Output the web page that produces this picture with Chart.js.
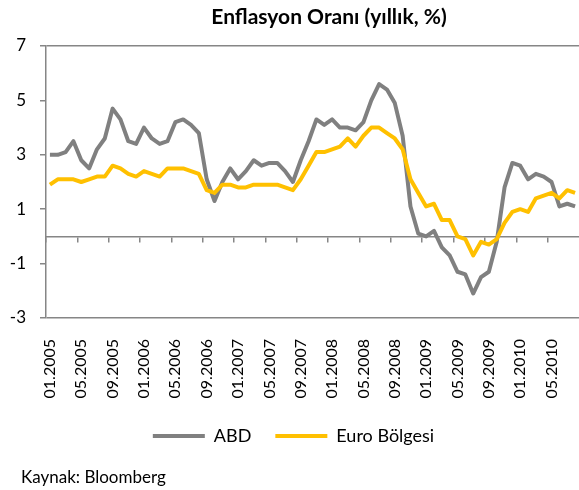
<!DOCTYPE html>
<html>
<head>
<meta charset="utf-8">
<script src="https://cdn.jsdelivr.net/npm/chart.js@4"></script>
<style>
  body { margin: 0; background: #fff; overflow: hidden; }
  #wrap { position: relative; width: 579px; height: 490px; }
  #title {
    position: absolute; left: 179px; width: 300px; top: 3px;
    text-align: center; white-space: nowrap;
    font: bold 21px Lato, sans-serif; color: #000;
  }
  #source {
    position: absolute; left: 21px; top: 466px;
    white-space: nowrap;
    font: 17px Lato, sans-serif; color: #000;
  }
</style>
</head>
<body>
<div id="wrap">
  <canvas id="chart" width="579" height="490"></canvas>
  <div id="title">Enflasyon Oranı (yıllık, %)</div>
  <div id="source">Kaynak: Bloomberg</div>
</div>
<script>
// aylar: 01.2005 - 08.2010
const months = [
  "01.2005","02.2005","03.2005","04.2005","05.2005","06.2005","07.2005","08.2005","09.2005","10.2005","11.2005","12.2005",
  "01.2006","02.2006","03.2006","04.2006","05.2006","06.2006","07.2006","08.2006","09.2006","10.2006","11.2006","12.2006",
  "01.2007","02.2007","03.2007","04.2007","05.2007","06.2007","07.2007","08.2007","09.2007","10.2007","11.2007","12.2007",
  "01.2008","02.2008","03.2008","04.2008","05.2008","06.2008","07.2008","08.2008","09.2008","10.2008","11.2008","12.2008",
  "01.2009","02.2009","03.2009","04.2009","05.2009","06.2009","07.2009","08.2009","09.2009","10.2009","11.2009","12.2009",
  "01.2010","02.2010","03.2010","04.2010","05.2010","06.2010","07.2010","08.2010"
];

// ABD yıllık enflasyon (%)
const abd = [
  3.0, 3.0, 3.1, 3.5, 2.8, 2.5, 3.2, 3.6, 4.7, 4.3, 3.5, 3.4,
  4.0, 3.6, 3.4, 3.5, 4.2, 4.3, 4.1, 3.8, 2.1, 1.3, 2.0, 2.5,
  2.1, 2.4, 2.8, 2.6, 2.7, 2.7, 2.4, 2.0, 2.8, 3.5, 4.3, 4.1,
  4.3, 4.0, 4.0, 3.9, 4.2, 5.0, 5.6, 5.4, 4.9, 3.7, 1.1, 0.1,
  0.0, 0.2, -0.4, -0.7, -1.3, -1.4, -2.1, -1.5, -1.3, -0.2, 1.8, 2.7,
  2.6, 2.1, 2.3, 2.2, 2.0, 1.1, 1.2, 1.1
];

// Euro Bölgesi yıllık enflasyon (%)
const euro = [
  1.9, 2.1, 2.1, 2.1, 2.0, 2.1, 2.2, 2.2, 2.6, 2.5, 2.3, 2.2,
  2.4, 2.3, 2.2, 2.5, 2.5, 2.5, 2.4, 2.3, 1.7, 1.6, 1.9, 1.9,
  1.8, 1.8, 1.9, 1.9, 1.9, 1.9, 1.8, 1.7, 2.1, 2.6, 3.1, 3.1,
  3.2, 3.3, 3.6, 3.3, 3.7, 4.0, 4.0, 3.8, 3.6, 3.2, 2.1, 1.6,
  1.1, 1.2, 0.6, 0.6, 0.0, -0.1, -0.7, -0.2, -0.3, -0.1, 0.5, 0.9,
  1.0, 0.9, 1.4, 1.5, 1.6, 1.4, 1.7, 1.6
];

const yTicks = [-3, -1, 1, 3, 5, 7];

const axisGray = "#868686";
const font = "Lato";

new Chart(document.getElementById("chart"), {
  type: "line",
  data: {
    labels: months,
    datasets: [{
      label: "ABD",
      data: abd,
      borderColor: "#808080",
      backgroundColor: "#808080",
      borderWidth: 4,
      pointRadius: 0,
      borderJoinStyle: "round",
      tension: 0,
      order: 1
    }, {
      label: "Euro Bölgesi",
      data: euro,
      borderColor: "#FFC000",
      backgroundColor: "#FFC000",
      borderWidth: 4,
      pointRadius: 0,
      borderJoinStyle: "round",
      tension: 0,
      order: 0
    }]
  },
  options: {
    responsive: false,
    animation: false,
    layout: { autoPadding: false, padding: { top: 46, left: 8, right: 0, bottom: 35 } },
    scales: {
      x: {
        type: "category",
        offset: true,
        grid: { display: false, drawTicks: false },
        border: { display: false },
        ticks: {
          autoSkip: false,
          minRotation: 90,
          maxRotation: 90,
          padding: 21,
          color: "#000",
          font: { family: font, size: 16 },
          callback: function (val, i) {
            return i % 4 === 0 ? months[i] : "";
          }
        },
        afterFit: function (scale) {
          scale.height = 85;
          // döndürülmüş etiketler sağda boşluk istemesin
          scale.paddingLeft = 0;
          scale.paddingRight = 0;
        }
      },
      // sıfır çizgisindeki eksen ve çentikler
      x0: {
        type: "category",
        labels: months,
        offset: true,
        position: { y: 0 },
        ticks: { display: false },
        grid: {
          offset: true,
          drawOnChartArea: false,
          drawTicks: true,
          tickLength: 5,
          lineWidth: 1.5,
          color: function (ctx) {
            return ctx.index % 4 === 0 ? axisGray : "rgba(0,0,0,0)";
          }
        },
        border: { display: true, color: axisGray, width: 1.5 }
      },
      y: {
        min: -3,
        max: 7,
        ticks: {
          stepSize: 1,
          padding: 14,
          color: "#000",
          font: { family: font, size: 17 },
          callback: function (v) {
            return yTicks.includes(v) ? String(v) : "";
          }
        },
        grid: {
          drawTicks: true,
          tickLength: 6,
          lineWidth: 1.5,
          color: function (ctx) {
            const v = ctx.tick ? ctx.tick.value : null;
            return v === 7 || v === -3 ? axisGray : "rgba(0,0,0,0)";
          },
          tickColor: function (ctx) {
            const v = ctx.tick ? ctx.tick.value : null;
            return yTicks.includes(v) ? axisGray : "rgba(0,0,0,0)";
          }
        },
        border: { display: true, color: axisGray, width: 1.5 },
        afterFit: function (scale) { scale.width = 38; }
      }
    },
    plugins: {
      legend: {
        position: "bottom",
        reverse: true,
        labels: {
          usePointStyle: true,
          pointStyle: "line",
          pointStyleWidth: 52,
          padding: 24,
          color: "#000",
          font: { family: font, size: 18 }
        }
      },
      tooltip: { enabled: false }
    }
  }
});
</script>
</body>
</html>
